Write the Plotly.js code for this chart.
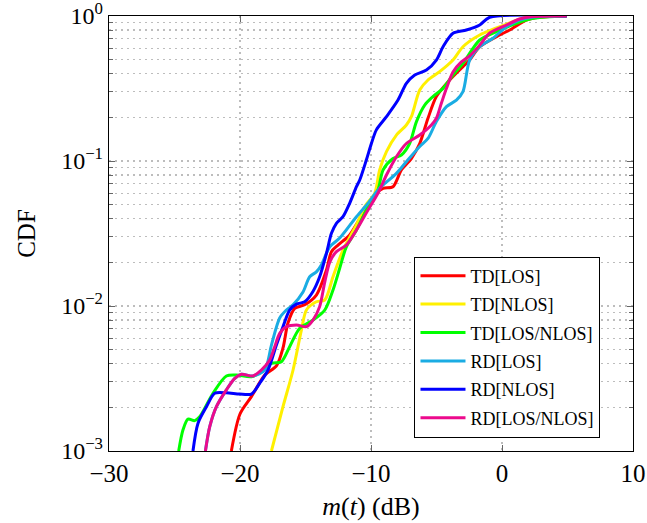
<!DOCTYPE html>
<html>
<head>
<meta charset="utf-8">
<script src="https://cdn.plot.ly/plotly-3.0.1.min.js"></script>
<style>html,body{margin:0;padding:0;background:#fff;}#chart{width:647px;height:523px;}</style>
</head>
<body>
<div id="chart"></div>
<script>
// TD[LOS]
const tdLosX = [-20.66,-20.0,-19.13,-18.11,-17.22,-16.72,-16.34,-15.82,-15.06,-14.17,-13.4,-13.02,-12.52,-11.63,-10.61,-9.59,-9.08,-8.32,-7.68,-6.92,-6.28,-5.65,-5.01,-3.99,-2.98,-2.47,-1.7,-0.18,0.59,1.86,2.88,4.94];
const tdLosY = [0.001,0.0018,0.00237,0.00334,0.00386,0.00513,0.00763,0.00964,0.0102,0.0119,0.0177,0.0237,0.0263,0.0309,0.0436,0.0599,0.0648,0.0665,0.0867,0.104,0.132,0.197,0.278,0.362,0.447,0.497,0.614,0.74,0.80,0.938,0.98,1.0];
// TD[NLOS]
const tdNlosX = [-17.6,-16.72,-15.95,-15.31,-14.93,-14.17,-13.53,-12.9,-12.14,-11.24,-10.4,-9.72,-9.34,-8.82,-8.06,-7.3,-6.92,-6.28,-5.65,-4.76,-3.74,-2.98,-1.7,0.59,1.86,4.94];
const tdNlosY = [0.001,0.00202,0.00362,0.00683,0.00938,0.0107,0.011,0.0159,0.0243,0.0345,0.0497,0.0599,0.0867,0.116,0.151,0.177,0.202,0.309,0.362,0.413,0.497,0.614,0.74,0.895,0.984,1.0];
// TD[LOS/NLOS]
const tdAllX = [-24.68,-24.35,-23.97,-23.46,-23.08,-22.06,-21.04,-20.27,-19.13,-18.37,-17.6,-16.84,-16.21,-15.44,-14.43,-13.53,-12.9,-12.39,-11.88,-11.11,-10.23,-9.47,-9.08,-8.32,-7.68,-7.05,-6.53,-5.9,-5.27,-4.5,-3.74,-2.98,-1.7,-0.43,1.1,2.37,4.94];
const tdAllY = [0.001,0.0014,0.00166,0.00162,0.00172,0.0025,0.00329,0.00334,0.00325,0.00352,0.00402,0.00413,0.00524,0.00702,0.008,0.00938,0.0129,0.0182,0.0256,0.0334,0.0484,0.0631,0.0867,0.104,0.11,0.132,0.187,0.243,0.278,0.317,0.392,0.472,0.683,0.78,0.89,0.964,1.0];
// RD[LOS]
const rdLosX = [-22.64,-22.31,-21.8,-21.04,-20.4,-19.89,-19.01,-18.11,-17.6,-16.97,-16.46,-15.95,-15.19,-14.68,-14.17,-13.79,-13.15,-12.39,-11.11,-10.23,-9.47,-9.08,-8.06,-7.3,-6.28,-5.65,-5.01,-4.24,-3.48,-2.98,-2.47,-1.7,-0.69,0.34,1.35,2.37,4.94];
const rdLosY = [0.001,0.00147,0.00202,0.00264,0.00317,0.00338,0.00329,0.00362,0.00538,0.00826,0.00938,0.0102,0.0125,0.0159,0.0172,0.0192,0.0256,0.0294,0.0413,0.0511,0.0631,0.0683,0.0822,0.0989,0.126,0.143,0.187,0.237,0.263,0.301,0.497,0.614,0.702,0.844,0.938,0.984,1.0];
// RD[NLOS]
const rdNlosX = [-23.59,-23.21,-22.56,-21.93,-21.04,-20.02,-19.13,-18.5,-17.86,-17.22,-16.72,-16.21,-15.69,-15.06,-14.43,-13.92,-13.4,-13.02,-12.64,-12.14,-11.63,-11.11,-10.86,-10.35,-9.97,-9.59,-8.82,-7.94,-7.3,-6.66,-5.77,-5.01,-4.5,-3.74,-2.72,-1.7,-0.94,4.94];
const rdNlosY = [0.001,0.00155,0.00202,0.0025,0.00252,0.00247,0.00247,0.00293,0.00362,0.00538,0.0072,0.00938,0.0103,0.0107,0.0126,0.0159,0.0231,0.0317,0.0372,0.0413,0.0511,0.0665,0.0739,0.102,0.132,0.164,0.202,0.263,0.343,0.392,0.424,0.497,0.614,0.76,0.80,0.867,0.98,1.0];
// RD[LOS/NLOS]
const rdAllX = [-22.64,-22.31,-21.8,-21.04,-20.4,-19.89,-19.01,-18.37,-17.73,-17.35,-16.97,-16.46,-15.69,-14.93,-14.43,-13.92,-13.53,-13.15,-12.64,-11.88,-11.11,-10.23,-9.47,-8.82,-8.06,-7.3,-6.28,-5.39,-5.01,-4.63,-4.24,-3.74,-3.1,-2.47,-1.7,-0.94,0.34,1.35,2.37,4.94];
const rdAllY = [0.001,0.00147,0.00202,0.00264,0.00317,0.00338,0.00329,0.00362,0.00424,0.00524,0.00648,0.0072,0.0074,0.0072,0.008,0.0099,0.0146,0.0201,0.0237,0.0263,0.0334,0.0459,0.0599,0.08,0.107,0.132,0.151,0.177,0.197,0.25,0.317,0.411,0.482,0.53,0.63,0.763,0.867,0.953,0.99,1.0];

const seriesNames = ['TD[LOS]','TD[NLOS]','TD[LOS/NLOS]','RD[LOS]','RD[NLOS]','RD[LOS/NLOS]'];
const seriesColors = ['#ff0000','#fff000','#00ff00','#1aace3','#0000ff','#ec0a8c'];
const xs = [tdLosX, tdNlosX, tdAllX, rdLosX, rdNlosX, rdAllX];
const ys = [tdLosY, tdNlosY, tdAllY, rdLosY, rdNlosY, rdAllY];

const yTickVals = [0.001, 0.01, 0.1, 1];
const yTickText = ['10<sup>−3</sup>','10<sup>−2</sup>','10<sup>−1</sup>','10<sup>0</sup>'];
const yMinorVals = [0.002,0.003,0.004,0.005,0.006,0.007,0.008,0.009,0.02,0.03,0.04,0.05,0.06,0.07,0.08,0.09,0.2,0.3,0.4,0.5,0.6,0.7,0.8,0.9];
const xTickVals = [-30, -20, -10, 0, 10];
const xTickText = ['−30','−20','−10','0','10'];

const FONT = '"Liberation Serif", "Times New Roman", serif';
const GRID = '#bdbdbd';
const DASH = '2px,4px';

const traces = xs.map((x, i) => ({
  x: x, y: ys[i], name: seriesNames[i], type: 'scatter', mode: 'lines',
  legendgroup: 'g' + i,
  line: {color: seriesColors[i], width: 3, shape: 'spline', smoothing: 0.8}
}));

const layout = {
  width: 647, height: 523,
  margin: {l: 109, r: 14, t: 16, b: 72},
  paper_bgcolor: '#fff', plot_bgcolor: '#fff',
  font: {family: FONT, color: '#000', size: 20},
  showlegend: true,
  legend: {
    x: 0.583, y: 0.031, xanchor: 'left', yanchor: 'bottom',
    bordercolor: '#000', borderwidth: 1, bgcolor: '#fff',
    font: {family: FONT, size: 18, color: '#000'},
    traceorder: 'grouped', tracegroupgap: 2, itemwidth: 45
  },
  xaxis: {
    range: [-30, 10], tickmode: 'array', tickvals: xTickVals, ticktext: xTickText,
    ticks: 'inside', ticklen: 6, tickcolor: '#666', mirror: 'allticks',
    showline: true, linecolor: '#000', linewidth: 1.2,
    showgrid: true, gridcolor: GRID, griddash: DASH, gridwidth: 1.3,
    zeroline: false, tickfont: {family: FONT, size: 25}, ticklabeloverflow: 'allow',
    title: {text: '<i>m</i>(<i>t</i>) (dB)', font: {family: FONT, size: 26}, standoff: 10}
  },
  yaxis: {
    type: 'log', range: [-3, 0], tickmode: 'array', tickvals: yTickVals, ticktext: yTickText,
    ticks: 'inside', ticklen: 6, tickcolor: '#666', mirror: 'allticks',
    showline: true, linecolor: '#000', linewidth: 1.2,
    showgrid: true, gridcolor: GRID, griddash: DASH, gridwidth: 1.3,
    zeroline: false, tickfont: {family: FONT, size: 24}, ticklabeloverflow: 'allow',
    minor: {tickmode: 'array', tickvals: yMinorVals, ticks: 'inside', ticklen: 4, tickcolor: '#666',
            showgrid: true, gridcolor: GRID, griddash: DASH, gridwidth: 1.3},
    title: {text: 'CDF', font: {family: FONT, size: 25}, standoff: 18}
  }
};

Plotly.newPlot('chart', traces, layout, {displayModeBar: false, staticPlot: true});
</script>
</body>
</html>
